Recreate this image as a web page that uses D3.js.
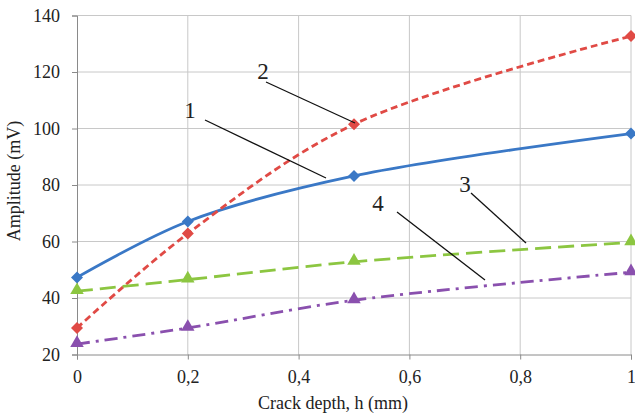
<!DOCTYPE html>
<html>
<head>
<meta charset="utf-8">
<script src="https://cdn.jsdelivr.net/npm/d3@7"></script>
<style>
  body { margin: 0; background: #fff; }
  svg text { font-family: "Liberation Serif", "Times New Roman", serif !important; }
</style>
</head>
<body>
<script>
// données
const depths = [0, 0.2, 0.5, 1];
const series1 = [47.3, 67.1, 83.2, 98.2];
const series2 = [29.4, 62.8, 101.5, 132.7];
const series3 = [42.4, 46.5, 52.8, 59.7];
const series4 = [23.7, 29.4, 39.2, 49.1];
const xTicks = [0, 0.2, 0.4, 0.6, 0.8, 1];
const yTicks = [20, 40, 60, 80, 100, 120, 140];
const labels = ["1", "2", "3", "4"];

const fontSerif = "Liberation Serif";
const width = 635, height = 418;
const x = d3.scaleLinear().domain([0, 1]).range([77, 631]);
const y = d3.scaleLinear().domain([20, 140]).range([354.5, 15.5]);

const svg = d3.select("body").append("svg").attr("width", width).attr("height", height)
  .attr("font-family", fontSerif);

// grille
svg.append("g").selectAll("line").data(yTicks.slice(1)).enter().append("line")
  .attr("x1", x(0)).attr("x2", x(1))
  .attr("y1", d => y(d)).attr("y2", d => y(d))
  .attr("stroke", "#c8c8c8").attr("stroke-width", 1);
svg.append("g").selectAll("line").data(xTicks.slice(1)).enter().append("line")
  .attr("x1", d => x(d)).attr("x2", d => x(d))
  .attr("y1", y(140)).attr("y2", y(20))
  .attr("stroke", "#c8c8c8").attr("stroke-width", 1);

// axes
const xAxis = svg.append("g").attr("transform", `translate(0,${y(20)})`)
  .call(d3.axisBottom(x).tickValues(xTicks).tickSize(5).tickPadding(11)
    .tickFormat(d => d === 0 || d === 1 ? d3.format("d")(d) : d3.format(".1f")(d).replace(".", ",")));
xAxis.attr("font-family", fontSerif).attr("font-size", 18);
xAxis.select(".domain").attr("stroke", "#8a8a8a");
xAxis.selectAll(".tick line").attr("stroke", "#8a8a8a");
xAxis.selectAll("text").attr("fill", "#222");

const yAxis = svg.append("g").attr("transform", `translate(${x(0)},0)`)
  .call(d3.axisLeft(y).tickValues(yTicks).tickSize(5).tickPadding(12));
yAxis.attr("font-family", fontSerif).attr("font-size", 18);
yAxis.select(".domain").attr("stroke", "#8a8a8a");
yAxis.selectAll(".tick line").attr("stroke", "#8a8a8a");
yAxis.selectAll("text").attr("fill", "#222");

// titres
svg.append("text").attr("x", 333).attr("y", 409).attr("text-anchor", "middle")
  .attr("font-size", 18).attr("fill", "#222")
  .text("Crack depth, h (mm)");
svg.append("text").attr("transform", "translate(20,181) rotate(-90)").attr("text-anchor", "middle")
  .attr("font-size", 18).attr("fill", "#222")
  .text("Amplitude (mV)");

const line = d3.line().x((d, i) => x(depths[i])).y(d => y(d)).curve(d3.curveCatmullRom.alpha(0.5));

const styles = [
  { data: series1, color: "#3a78c6", dash: null, marker: "diamond" },
  { data: series2, color: "#e04a45", dash: "7,4", marker: "diamond" },
  { data: series3, color: "#8cc641", dash: "16,7", marker: "triangle" },
  { data: series4, color: "#8a50ae", dash: "13,6,3,6", marker: "triangle" }
];

styles.forEach(s => {
  svg.append("path").datum(s.data).attr("d", line)
    .attr("fill", "none").attr("stroke", s.color).attr("stroke-width", 2.8)
    .attr("stroke-dasharray", s.dash);
  const sym = s.marker === "diamond"
    ? d3.symbol().type(d3.symbolSquare).size(72)
    : d3.symbol().type(d3.symbolTriangle2).size(130);
  svg.append("g").selectAll("path").data(s.data).enter().append("path")
    .attr("transform", (d, i) => s.marker === "diamond"
      ? `translate(${x(depths[i])},${y(d)}) rotate(45)`
      : `translate(${x(depths[i])},${y(d) - 1})`)
    .attr("d", sym)
    .attr("fill", s.color);
});

// étiquettes avec lignes de rappel
const callouts = [
  { t: labels[0], tx: 190, ty: 118, x1: 205, y1: 120, x2: 326, y2: 178 },
  { t: labels[1], tx: 263, ty: 79, x1: 266, y1: 82, x2: 355, y2: 123 },
  { t: labels[2], tx: 465, ty: 192, x1: 471, y1: 193, x2: 526, y2: 243 },
  { t: labels[3], tx: 378, ty: 211, x1: 397, y1: 212, x2: 485, y2: 280 }
];
callouts.forEach(c => {
  svg.append("line").attr("x1", c.x1).attr("y1", c.y1).attr("x2", c.x2).attr("y2", c.y2)
    .attr("stroke", "#111").attr("stroke-width", 1.3);
  svg.append("text").attr("x", c.tx).attr("y", c.ty).attr("text-anchor", "middle")
    .attr("font-size", 23).attr("fill", "#222").text(c.t);
});
</script>
</body>
</html>
